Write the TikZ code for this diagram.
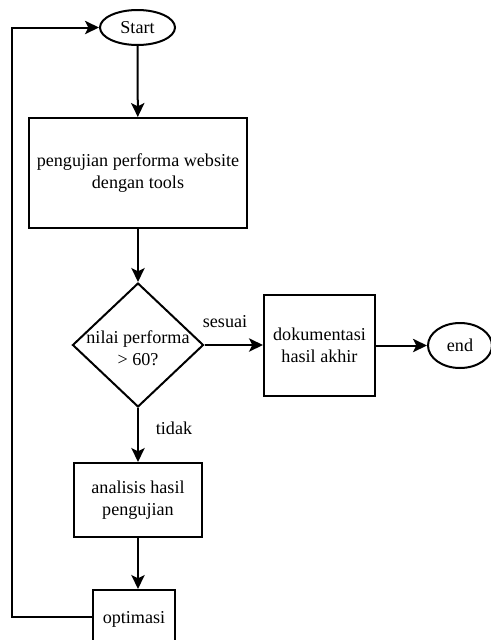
\documentclass[tikz,border=0pt]{standalone}
\usepackage{fontspec}
\setmainfont{Liberation Serif}
\usetikzlibrary{shapes.geometric,arrows.meta}
\tikzset{
  lbl/.style={font=\fontsize{13.6}{16.5}\selectfont, align=center},
  box/.style={draw, line width=1.5pt, rectangle, inner sep=0pt, lbl},
  oval/.style={draw, line width=1.5pt, ellipse, inner sep=0pt, lbl},
  arr/.style={line width=1.5pt, -{Stealth[length=10.5pt,width=10pt,inset=2.5pt]}},
  ln/.style={line width=1.5pt}
}
\begin{document}
\begin{tikzpicture}[x=0.75pt,y=-0.75pt]
\useasboundingbox (0,0) rectangle (490,640);
\node[oval, minimum width=56.25pt, minimum height=26.25pt] (s) at (137.5,27.5) {Start};
\node[box, minimum width=163.5pt, minimum height=82.5pt] (b1) at (138,173) {pengujian performa website\\dengan tools};
\node[draw, line width=1.5pt, diamond, inner sep=0pt, minimum width=98.25pt, minimum height=93pt] (d) at (138,345) {};
\node[lbl] (dt) at (138,348) {nilai performa\\> 60?};
\node[box, minimum width=83.25pt, minimum height=75.75pt] (doc) at (319.5,345.5) {dokumentasi\\hasil akhir};
\node[oval, minimum width=48pt, minimum height=33.75pt] (e) at (460,345.5) {end};
\node[box, minimum width=96pt, minimum height=55.5pt] (ana) at (138,500) {analisis hasil\\pengujian};
\node[box, minimum width=61.5pt, minimum height=45pt] (opt) at (134,620) {};
\node[lbl] (optt) at (134,619) {optimasi};
\node[lbl] (ys) at (225,322) {sesuai};
\node[lbl] (no) at (174,428) {tidak};
\coordinate (lp) at (12,617);
\draw[arr] (s) -- (b1);
\draw[arr] (b1.south) -- (d.north);
\draw[arr] (d.east) -- (d.east -| doc.west);
\draw[arr] (doc.east |- e.west) -- (e.west);
\draw[arr] (d.south) -- (ana.north);
\draw[arr] (ana.south) -- (ana.south |- opt.north);
\draw[arr] (opt.west |- lp) -- (lp) |- (s.west);
\end{tikzpicture}
\end{document}
